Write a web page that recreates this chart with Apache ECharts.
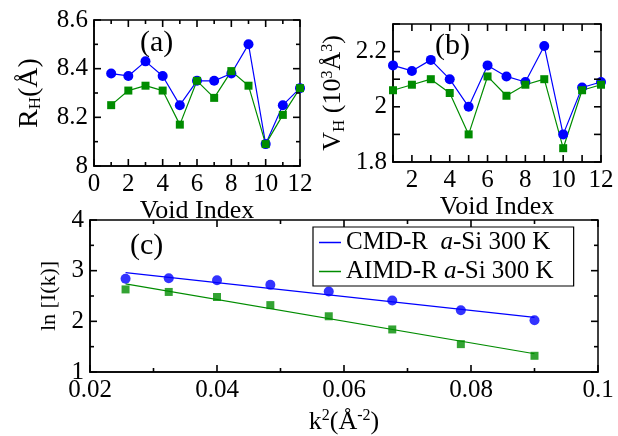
<!DOCTYPE html>
<html>
<head>
<meta charset="utf-8">
<script src="https://cdn.jsdelivr.net/npm/echarts@6/dist/echarts.min.js"></script>
<style>
	html, body { margin: 0; padding: 0; background: #fff; }
	#chart { width: 618px; height: 436px; }
</style>
</head>
<body>
<div id="chart"></div>
<script>
	/*---------- 数据 ----------*/
	var voidIndex = [1, 2, 3, 4, 5, 6, 7, 8, 9, 10, 11, 12];
	// (a) R_H
	var rhCmd = [8.38, 8.37, 8.43, 8.37, 8.25, 8.35, 8.35, 8.38, 8.50, 8.09, 8.25, 8.32];
	var rhAimd = [8.25, 8.31, 8.33, 8.31, 8.17, 8.35, 8.28, 8.39, 8.33, 8.09, 8.21, 8.32];
	// (b) V_H
	var vhCmd = [2.15, 2.13, 2.17, 2.10, 2.00, 2.15, 2.11, 2.09, 2.22, 1.90, 2.07, 2.09];
	var vhAimd = [2.06, 2.08, 2.10, 2.05, 1.90, 2.11, 2.04, 2.08, 2.10, 1.85, 2.06, 2.08];
	// (c) ln I(k) vs k^2
	var kSq = [0.0256, 0.0324, 0.04, 0.0484, 0.0576, 0.0676, 0.0784, 0.09];
	var lnCmd = [2.84, 2.85, 2.81, 2.72, 2.59, 2.41, 2.22, 2.02];
	var lnAimd = [2.63, 2.58, 2.48, 2.32, 2.10, 1.84, 1.55, 1.32];
	var fitX = [0.0256, 0.09];
	var fitCmd = [2.96, 2.08];
	var fitAimd = [2.74, 1.36];
	// 刻度标签
	var axLabels = [0, 2, 4, 6, 8, 10, 12];
	var ayLabels = [8, 8.2, 8.4, 8.6];
	var bxLabels = [2, 4, 6, 8, 10, 12];
	var byLabels = [1.8, 2, 2.2];
	var cxLabels = [0.02, 0.04, 0.06, 0.08, 0.1];
	var cyLabels = [1, 2, 3, 4];
	// 刻度线（主/次）
	var axMajor = [0, 2, 4, 6, 8, 10, 12];
	var axMinor = [1, 3, 5, 7, 9, 11];
	var ayMajor = [8, 8.2, 8.4, 8.6];
	var ayMinor = [8.1, 8.3, 8.5];
	var bxMajor = [1, 2, 3, 4, 5, 6, 7, 8, 9, 10, 11, 12];
	var byMajor = [1.8, 1.9, 2.0, 2.1, 2.2, 2.3];
	var cxMajor = [0.02, 0.04, 0.06, 0.08, 0.1];
	var cxMinor = [0.03, 0.05, 0.07, 0.09];
	var cyMajor = [1, 2, 3, 4];
	var cyMinor = [1.5, 2.5, 3.5];
	var legendNames = ['CMD-R  a-Si 300 K', 'AIMD-R a-Si 300 K'];
	/*-------------------------*/

	var FONT = 'Liberation Serif';
	var BLUE = '#0000ff';
	var GREEN = '#008c00';

	function zip(xs, ys) {
		var out = [];
		for (var i = 0; i < xs.length; i++) {
			out.push([xs[i], ys[i]]);
		}
		return out;
	}

	function makeAxis(grid, pos, min, max, step, labels) {
		return {
			type: 'value',
			gridIndex: grid,
			position: pos,
			min: min,
			max: max,
			interval: step,
			axisLine: { show: true, onZero: false, lineStyle: { color: '#000', width: 1.5 } },
			axisTick: { show: false },
			minorTick: { show: false },
			splitLine: { show: false },
			minorSplitLine: { show: false },
			axisLabel: {
				show: true,
				margin: 6,
				color: '#000',
				fontFamily: FONT,
				fontSize: 25,
				formatter: function(v) {
					var r = +(+v).toFixed(3);
					return labels.indexOf(r) >= 0 ? String(r) : '';
				}
			}
		};
	}

	function axisName(ax, text, gap, size) {
		ax.name = text;
		ax.nameLocation = 'middle';
		ax.nameGap = gap;
		ax.nameTextStyle = {
			color: '#000',
			fontFamily: FONT,
			fontSize: size,
			rich: {
				n: { fontFamily: FONT, fontSize: size, color: '#000' },
				s: { fontFamily: FONT, fontSize: 17, color: '#000', padding: [12, 0, 0, 0] },
				p: { fontFamily: FONT, fontSize: 16, color: '#000', padding: [0, 0, 12, 0] }
			}
		};
		return ax;
	}

	var xAxes = [
		axisName(makeAxis(0, 'bottom', 0, 12, 2, axLabels), '{n|Void Index}', 25, 26),
		axisName(makeAxis(1, 'bottom', 1, 12, 1, bxLabels), '{n|Void Index}', 23, 26),
		axisName(makeAxis(2, 'bottom', 0.02, 0.1, 0.02, cxLabels), '{n|k}{p|2}{n|(Å}{p|-2}{n|)}', 36, 26)
	];
	var yAxes = [
		axisName(makeAxis(0, 'left', 8, 8.6, 0.2, ayLabels), '{n|R}{s|H}{n|(Å)}', 50, 28),
		axisName(makeAxis(1, 'left', 1.8, 2.3, 0.1, byLabels), '{n|V}{s|H}{n| (10}{p|3}{n|Å}{p|3}{n|)}', 45, 26),
		axisName(makeAxis(2, 'left', 1, 4, 1, cyLabels), '{n|ln [I(k)]}', 26, 22)
	];

	function dotLine(name, idx, data, color, symbol, size) {
		return {
			name: name,
			type: 'line',
			xAxisIndex: idx,
			yAxisIndex: idx,
			data: data,
			symbol: symbol,
			symbolSize: size,
			showAllSymbol: true,
			itemStyle: { color: color },
			lineStyle: { color: color, width: 1.2 },
			animation: false,
			z: 3
		};
	}

	function dots(name, data, color, symbol, size) {
		return {
			name: name,
			type: 'scatter',
			xAxisIndex: 2,
			yAxisIndex: 2,
			data: data,
			symbol: symbol,
			symbolSize: size,
			itemStyle: { color: color },
			animation: false,
			z: 3
		};
	}

	function fitLine(name, data, color) {
		return {
			name: name,
			type: 'line',
			xAxisIndex: 2,
			yAxisIndex: 2,
			data: data,
			symbol: 'none',
			itemStyle: { color: color },
			lineStyle: { color: color, width: 1.2 },
			animation: false,
			z: 2
		};
	}

	function box(l, t, w, h) {
		return { left: l, top: t, width: w, height: h, show: true, borderColor: '#000', borderWidth: 1.5, backgroundColor: 'transparent' };
	}

	var panelLabels = [
		{ type: 'text', left: 140, top: 28, style: { text: '(a)', fontFamily: FONT, fontSize: 30, fill: '#000' } },
		{ type: 'text', left: 435, top: 31, style: { text: '(b)', fontFamily: FONT, fontSize: 30, fill: '#000' } },
		{ type: 'text', left: 130, top: 231, style: { text: '(c)', fontFamily: FONT, fontSize: 30, fill: '#000' } }
	];

	var myChart = echarts.init(document.getElementById('chart'));
	myChart.setOption({
		backgroundColor: '#fff',
		animation: false,
		grid: [
			box(94, 20, 206, 146),
			box(393, 24, 208, 138),
			box(90, 220, 508, 153)
		],
		xAxis: xAxes,
		yAxis: yAxes,
		legend: {
			data: [
				{ name: legendNames[0], icon: 'rect' },
				{ name: legendNames[1], icon: 'rect' }
			],
			orient: 'vertical',
			left: 313,
			top: 227,
			padding: [3, 20, 2, 6],
			itemGap: 4,
			itemWidth: 22,
			itemHeight: 1.5,
			borderColor: '#000',
			borderWidth: 1.2,
			borderRadius: 0,
			selectedMode: false,
			formatter: function(name) {
				var parts = name.split('a-Si');
				return '{n|' + parts[0] + '}{i|a}{n|-Si' + parts[1] + '}';
			},
			textStyle: {
				color: '#000',
				fontFamily: FONT,
				fontSize: 25,
				lineHeight: 24,
				rich: {
					n: { fontFamily: FONT, fontSize: 25, color: '#000', lineHeight: 24 },
					i: { fontFamily: FONT, fontSize: 25, color: '#000', fontStyle: 'italic', lineHeight: 24 }
				}
			}
		},
		series: [
			dotLine('a-cmd', 0, zip(voidIndex, rhCmd), BLUE, 'circle', 10),
			dotLine('a-aimd', 0, zip(voidIndex, rhAimd), GREEN, 'rect', 8),
			dotLine('b-cmd', 1, zip(voidIndex, vhCmd), BLUE, 'circle', 10),
			dotLine('b-aimd', 1, zip(voidIndex, vhAimd), GREEN, 'rect', 8),
			fitLine(legendNames[0], zip(fitX, fitCmd), BLUE),
			fitLine(legendNames[1], zip(fitX, fitAimd), GREEN),
			dots('c-cmd', zip(kSq, lnCmd), BLUE, 'circle', 10),
			dots('c-aimd', zip(kSq, lnAimd), GREEN, 'rect', 8)
		]
	});

	/*---------- 向内的刻度线（四边），用坐标轴换算像素，画成细长的黑色矩形 ----------*/
	var TW = 1.6;
	var tickEls = [];
	function addTicks(gi, dir, values, len, xr, yr) {
		for (var i = 0; i < values.length; i++) {
			var v = values[i];
			var p0, p1;
			if (dir === 'x') {
				p0 = myChart.convertToPixel({ gridIndex: gi }, [v, yr[0]]);
				p1 = myChart.convertToPixel({ gridIndex: gi }, [v, yr[1]]);
				tickEls.push({ x: p0[0] - TW / 2, y: p0[1] - len, width: TW, height: len });
				tickEls.push({ x: p1[0] - TW / 2, y: p1[1], width: TW, height: len });
			} else {
				p0 = myChart.convertToPixel({ gridIndex: gi }, [xr[0], v]);
				p1 = myChart.convertToPixel({ gridIndex: gi }, [xr[1], v]);
				tickEls.push({ x: p0[0], y: p0[1] - TW / 2, width: len, height: TW });
				tickEls.push({ x: p1[0] - len, y: p1[1] - TW / 2, width: len, height: TW });
			}
		}
	}
	addTicks(0, 'x', axMajor, 7, [0, 12], [8, 8.6]);
	addTicks(0, 'x', axMinor, 4, [0, 12], [8, 8.6]);
	addTicks(0, 'y', ayMajor, 7, [0, 12], [8, 8.6]);
	addTicks(0, 'y', ayMinor, 4, [0, 12], [8, 8.6]);
	addTicks(1, 'x', bxMajor, 7, [1, 12], [1.8, 2.3]);
	addTicks(1, 'y', byMajor, 7, [1, 12], [1.8, 2.3]);
	addTicks(2, 'x', cxMajor, 7, [0.02, 0.1], [1, 4]);
	addTicks(2, 'x', cxMinor, 4, [0.02, 0.1], [1, 4]);
	addTicks(2, 'y', cyMajor, 7, [0.02, 0.1], [1, 4]);
	addTicks(2, 'y', cyMinor, 4, [0.02, 0.1], [1, 4]);

	var graphics = panelLabels.slice();
	for (var t = 0; t < tickEls.length; t++) {
		graphics.push({ type: 'rect', silent: true, z: 100, shape: tickEls[t], style: { fill: '#000' } });
	}
	myChart.setOption({ graphic: graphics });
	/*-------------------------*/
</script>
</body>
</html>
